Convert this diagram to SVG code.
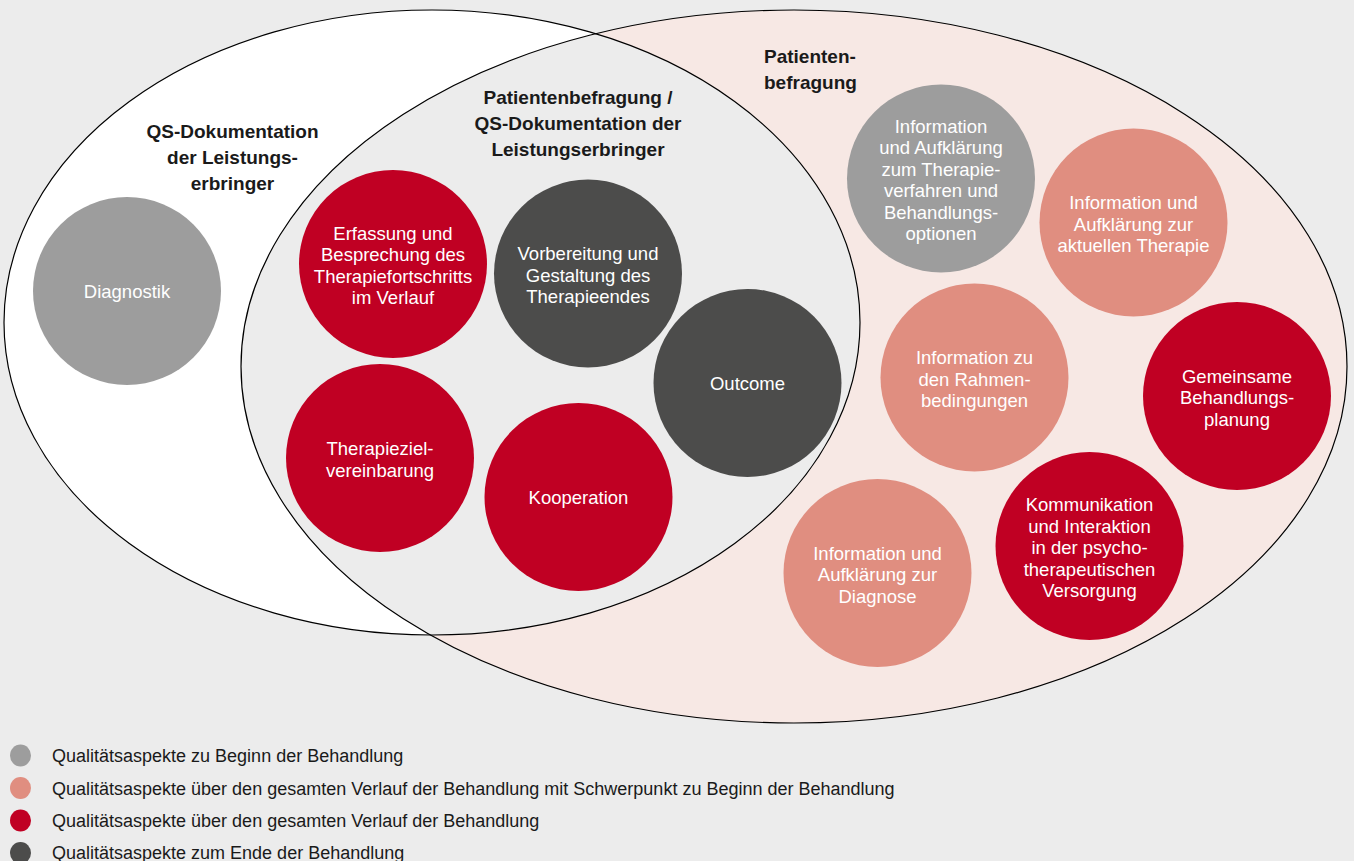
<svg xmlns="http://www.w3.org/2000/svg" width="1354" height="861" viewBox="0 0 1354 861">
<defs>
<clipPath id="clipLeft"><ellipse cx="432" cy="322.5" rx="428" ry="312.5"/></clipPath>
<style>
.nt{font-family:"Liberation Sans",Arial,sans-serif;font-size:18.5px;fill:#ffffff;text-anchor:middle}
.hd{font-family:"Liberation Sans",Arial,sans-serif;font-size:19px;font-weight:bold;fill:#1a1a1a}
.lg{font-family:"Liberation Sans",Arial,sans-serif;font-size:18px;fill:#1a1a1a}
.c-grey{fill:#9d9d9d}
.c-salmon{fill:#e08e80}
.c-red{fill:#c00023}
.c-dark{fill:#4c4c4b}
.outline{fill:none;stroke:#000;stroke-width:1.2}
</style>
</defs>
<rect x="0" y="0" width="1354" height="861" fill="#ececec"/>
<g id="sets">
<ellipse cx="432" cy="322.5" rx="428" ry="312.5" fill="#ffffff"/>
<ellipse cx="794" cy="366.5" rx="553" ry="356.5" fill="#f7e8e4"/>
<ellipse cx="794" cy="366.5" rx="553" ry="356.5" fill="#ececec" clip-path="url(#clipLeft)"/>
<ellipse class="outline" cx="432" cy="322.5" rx="428" ry="312.5"/>
<ellipse class="outline" cx="794" cy="366.5" rx="553" ry="356.5"/>
</g>
<g id="set-labels">
<text class="hd" text-anchor="middle"><tspan x="232.5" y="138">QS-Dokumentation</tspan><tspan x="232.5" y="164">der Leistungs-</tspan><tspan x="232.5" y="190">erbringer</tspan></text>
<text class="hd" text-anchor="middle"><tspan x="578" y="104">Patientenbefragung /</tspan><tspan x="578" y="130">QS-Dokumentation der</tspan><tspan x="578" y="156">Leistungserbringer</tspan></text>
<text class="hd"><tspan x="764" y="63">Patienten-</tspan><tspan x="764" y="89">befragung</tspan></text>
</g>
<g id="node-diagnostik"><circle class="c-grey" cx="127" cy="291" r="94"/><text class="nt"><tspan x="127" y="298">Diagnostik</tspan></text></g>
<g id="node-erfassung"><circle class="c-red" cx="393" cy="264" r="94"/><text class="nt"><tspan x="393" y="239.75">Erfassung und</tspan><tspan x="393" y="261.25">Besprechung des</tspan><tspan x="393" y="282.75">Therapiefortschritts</tspan><tspan x="393" y="304.25">im Verlauf</tspan></text></g>
<g id="node-therapieziel"><circle class="c-red" cx="380" cy="458" r="94"/><text class="nt"><tspan x="380" y="455.25">Therapieziel-</tspan><tspan x="380" y="476.75">vereinbarung</tspan></text></g>
<g id="node-vorbereitung"><circle class="c-dark" cx="588" cy="273.5" r="94"/><text class="nt"><tspan x="588" y="260">Vorbereitung und</tspan><tspan x="588" y="281.5">Gestaltung des</tspan><tspan x="588" y="303">Therapieendes</tspan></text></g>
<g id="node-outcome"><circle class="c-dark" cx="747.5" cy="383" r="94"/><text class="nt"><tspan x="747.5" y="390">Outcome</tspan></text></g>
<g id="node-kooperation"><circle class="c-red" cx="578.5" cy="497" r="94"/><text class="nt"><tspan x="578.5" y="504">Kooperation</tspan></text></g>
<g id="node-info-therapieverfahren"><circle class="c-grey" cx="941" cy="178.5" r="94"/><text class="nt"><tspan x="941" y="132.75">Information</tspan><tspan x="941" y="154.25">und Aufklärung</tspan><tspan x="941" y="175.75">zum Therapie-</tspan><tspan x="941" y="197.25">verfahren und</tspan><tspan x="941" y="218.75">Behandlungs-</tspan><tspan x="941" y="240.25">optionen</tspan></text></g>
<g id="node-info-aktuelle-therapie"><circle class="c-salmon" cx="1133.5" cy="222.5" r="94"/><text class="nt"><tspan x="1133.5" y="209">Information und</tspan><tspan x="1133.5" y="230.5">Aufklärung zur</tspan><tspan x="1133.5" y="252">aktuellen Therapie</tspan></text></g>
<g id="node-info-rahmenbedingungen"><circle class="c-salmon" cx="974.5" cy="377.5" r="94"/><text class="nt"><tspan x="974.5" y="364">Information zu</tspan><tspan x="974.5" y="385.5">den Rahmen-</tspan><tspan x="974.5" y="407">bedingungen</tspan></text></g>
<g id="node-gemeinsame-planung"><circle class="c-red" cx="1237" cy="396" r="94"/><text class="nt"><tspan x="1237" y="382.5">Gemeinsame</tspan><tspan x="1237" y="404">Behandlungs-</tspan><tspan x="1237" y="425.5">planung</tspan></text></g>
<g id="node-kommunikation"><circle class="c-red" cx="1089.5" cy="546" r="94"/><text class="nt"><tspan x="1089.5" y="511">Kommunikation</tspan><tspan x="1089.5" y="532.5">und Interaktion</tspan><tspan x="1089.5" y="554">in der psycho-</tspan><tspan x="1089.5" y="575.5">therapeutischen</tspan><tspan x="1089.5" y="597">Versorgung</tspan></text></g>
<g id="node-info-diagnose"><circle class="c-salmon" cx="877.5" cy="573" r="94"/><text class="nt"><tspan x="877.5" y="559.5">Information und</tspan><tspan x="877.5" y="581">Aufklärung zur</tspan><tspan x="877.5" y="602.5">Diagnose</tspan></text></g>
<g id="legend">
<ellipse class="c-grey" cx="20.5" cy="755.5" rx="10.5" ry="11"/>
<text class="lg" x="52" y="762">Qualitätsaspekte zu Beginn der Behandlung</text>
<ellipse class="c-salmon" cx="20.5" cy="788" rx="10.5" ry="11"/>
<text class="lg" x="52" y="794.5">Qualitätsaspekte über den gesamten Verlauf der Behandlung mit Schwerpunkt zu Beginn der Behandlung</text>
<ellipse class="c-red" cx="20.5" cy="820.5" rx="10.5" ry="11"/>
<text class="lg" x="52" y="826.5">Qualitätsaspekte über den gesamten Verlauf der Behandlung</text>
<ellipse class="c-dark" cx="20.5" cy="853" rx="10.5" ry="11"/>
<text class="lg" x="52" y="859">Qualitätsaspekte zum Ende der Behandlung</text>
</g>
</svg>
